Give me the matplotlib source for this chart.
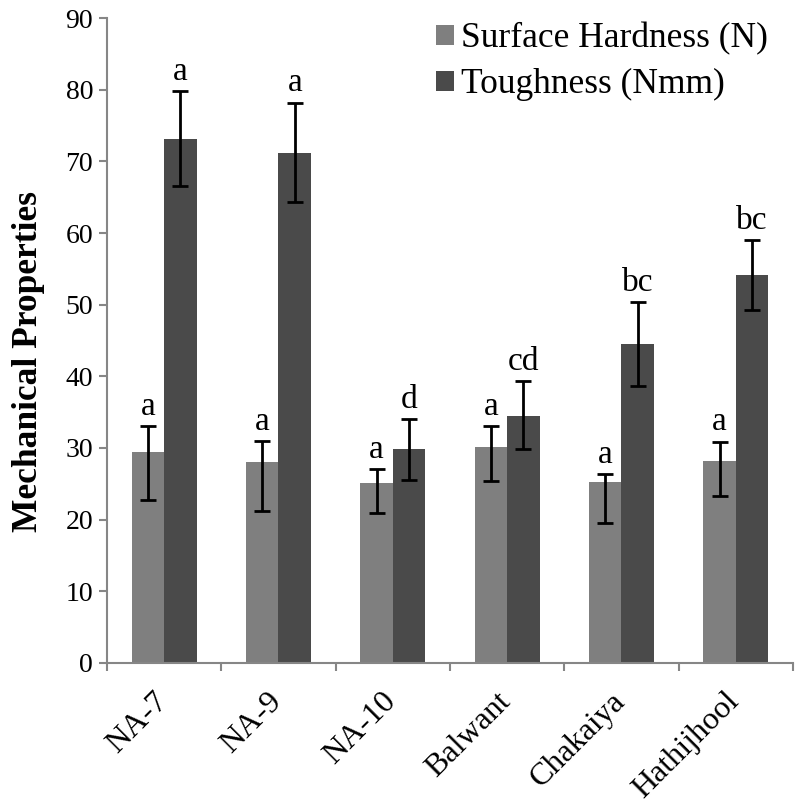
#Bar chart of mechanical properties for six varieties
import matplotlib
matplotlib.use('Agg')
import matplotlib.pyplot as plt
import matplotlib.transforms as mtransforms
import numpy as np

plt.rcParams['font.family'] = ['Liberation Serif', 'DejaVu Serif']

varieties = ['NA-7', 'NA-9', 'NA-10', 'Balwant', 'Chakaiya', 'Hathijhool']

#Surface hardness (N) with lower / upper error bar ends
hardness = [29.4, 28.0, 25.1, 30.1, 25.3, 28.2]
hardness_hi = [33.1, 31.0, 27.1, 33.0, 26.4, 30.9]
hardness_lo = [22.7, 21.2, 20.9, 25.4, 19.5, 23.3]
hardness_grp = ['a', 'a', 'a', 'a', 'a', 'a']

#Toughness (Nmm)
toughness = [73.1, 71.2, 29.8, 34.5, 44.5, 54.1]
toughness_hi = [79.8, 78.2, 34.0, 39.3, 50.4, 59.0]
toughness_lo = [66.5, 64.3, 25.6, 29.8, 38.7, 49.2]
toughness_grp = ['a', 'a', 'd', 'cd', 'bc', 'bc']

x = np.arange(len(varieties))
w = 0.285

fig = plt.figure(figsize=(7.96, 8.08), dpi=100)
ax = fig.add_axes([0.1344, 0.1795, 0.8618, 0.7982])

def draw(xpos, vals, lo, hi, grp, color, label):
    vals = np.array(vals)
    err = [vals - np.array(lo), np.array(hi) - vals]
    ax.bar(xpos, vals, w, color=color, label=label, zorder=2)
    ax.errorbar(xpos, vals, yerr=err, fmt='none', ecolor='black',
                elinewidth=2, capsize=6, capthick=2, zorder=3)
    for xi, top, g in zip(xpos, hi, grp):
        ax.annotate(g, (xi, top), xytext=(0, 3), textcoords='offset points',
                    ha='center', va='bottom', fontsize=24)

draw(x - w/2, hardness, hardness_lo, hardness_hi, hardness_grp, '#7f7f7f', 'Surface Hardness (N)')
draw(x + w/2, toughness, toughness_lo, toughness_hi, toughness_grp, '#4a4a4a', 'Toughness (Nmm)')

ax.set_xlim(-0.5, len(varieties) - 0.5)
ax.set_ylim(0, 90)
ax.set_yticks(np.arange(0, 91, 10))
ax.set_xticks(x)
ax.set_xticklabels(varieties, rotation=45, ha='right', va='top', rotation_mode='anchor', fontsize=23)
ax.set_xticks(np.arange(len(varieties) + 1) - 0.5, minor=True)
ax.tick_params(axis='x', which='major', length=0, pad=17)
ax.tick_params(axis='x', which='minor', length=6, width=1.5, color='#868686')
ax.tick_params(axis='y', length=6, width=1.5, color='#868686', labelsize=20, pad=4)

#shift the rotated labels a little to the left
shift = mtransforms.ScaledTranslation(-0.11, 0, fig.dpi_scale_trans)
for lab in ax.get_xticklabels():
    lab.set_transform(lab.get_transform() + shift)

for s in ['top', 'right']:
    ax.spines[s].set_visible(False)
for s in ['left', 'bottom']:
    ax.spines[s].set_color('#868686')
    ax.spines[s].set_linewidth(1.5)

ax.set_ylabel('Mechanical Properties', fontsize=25.5, fontweight='bold')
ax.yaxis.set_label_coords(-0.09, 0.467)

ax.legend(loc='upper left', bbox_to_anchor=(0.548, 0.972), bbox_transform=fig.transFigure,
          frameon=False, fontsize=25.5, handlelength=0.5, handleheight=0.5,
          handletextpad=0.2, labelspacing=0.35, borderpad=0, borderaxespad=0)

fig.savefig('out.png', dpi=100)
